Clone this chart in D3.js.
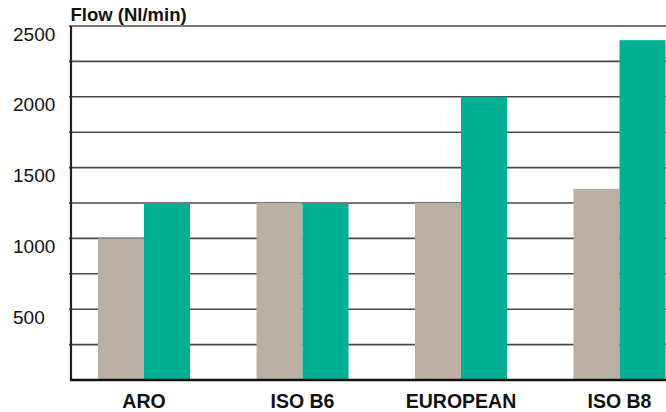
<!DOCTYPE html>
<html>
<head>
<meta charset="utf-8">
<script src="https://cdn.jsdelivr.net/npm/d3@7"></script>
<style>
  html, body { margin: 0; padding: 0; background: #fff; }
  svg { display: block; }
  text { font-family: "Liberation Sans", Arial, Helvetica, sans-serif; }
</style>
</head>
<body>
<svg id="chart" width="666" height="412"></svg>
<script>
const categories = ["ARO", "ISO B6", "EUROPEAN", "ISO B8"];
const seriesA = [1000, 1250, 1250, 1350];   // beige
const seriesB = [1250, 1250, 2000, 2400];   // green
const yTicks = [500, 1000, 1500, 2000, 2500];
const gridTicks = [250, 500, 750, 1000, 1250, 1500, 1750, 2000, 2250, 2500];
const yTitle = "Flow (Nl/min)";

const W = 666, H = 412;
const m = { left: 71, right: 0, top: 26, bottom: 32 };
const svg = d3.select("#chart");

const y = d3.scaleLinear().domain([0, 2500]).range([380, 26]);
const x = d3.scalePoint().domain(categories).range([144, 619.5]);
const barW = 46;

// gridlines
svg.append("g").selectAll("line").data(gridTicks).join("line")
  .attr("x1", m.left - 2).attr("x2", W)
  .attr("y1", d => y(d)).attr("y2", d => y(d))
  .attr("stroke", "#4a4a4a").attr("stroke-width", 1.6);

// bars
const g = svg.append("g");
g.selectAll("rect.a").data(categories).join("rect").attr("class", "a")
  .attr("x", d => x(d) - barW)
  .attr("width", barW)
  .attr("y", (d, i) => y(seriesA[i]))
  .attr("height", (d, i) => y(0) - y(seriesA[i]))
  .attr("fill", "#bbafa4");
g.selectAll("rect.b").data(categories).join("rect").attr("class", "b")
  .attr("x", d => x(d))
  .attr("width", barW)
  .attr("y", (d, i) => y(seriesB[i]))
  .attr("height", (d, i) => y(0) - y(seriesB[i]))
  .attr("fill", "#00b093");

// axes lines
svg.append("line").attr("x1", m.left).attr("x2", m.left)
  .attr("y1", y(2500)).attr("y2", y(0) + 1)
  .attr("stroke", "#222").attr("stroke-width", 2.2);
svg.append("line").attr("x1", m.left - 1).attr("x2", W)
  .attr("y1", y(0)).attr("y2", y(0))
  .attr("stroke", "#111").attr("stroke-width", 2.4);

// y tick labels (left-aligned, below gridline)
svg.append("g").selectAll("text").data(yTicks).join("text")
  .attr("x", 13).attr("y", d => y(d) + 14.5)
  .attr("font-size", 19).attr("fill", "#111")
  .text(d => d);

// x labels
svg.append("g").selectAll("text").data(categories).join("text")
  .attr("x", d => x(d)).attr("y", 407.5)
  .attr("text-anchor", "middle")
  .attr("font-size", 19.5).attr("font-weight", "bold").attr("fill", "#111")
  .text(d => d);

// title
svg.append("text").attr("x", 70.5).attr("y", 21)
  .attr("font-size", 18.5).attr("font-weight", "bold").attr("fill", "#111")
  .text(yTitle);
</script>
</body>
</html>
